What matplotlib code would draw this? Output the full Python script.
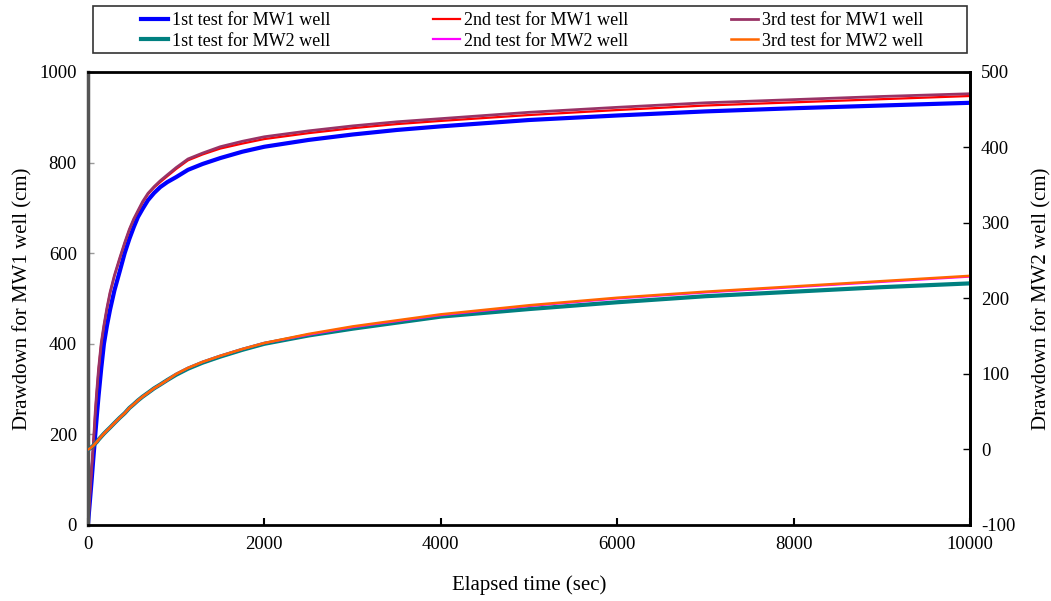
import matplotlib.pyplot as plt
from matplotlib.patches import Rectangle

# elapsed time (sec)
time_sec = [0, 10, 25, 40, 60, 83, 100, 120, 150, 181, 215, 250, 300, 360, 416, 470,
            520, 567, 620, 680, 750, 820, 900, 1000, 1134, 1300, 1500, 1750, 2000,
            2500, 3000, 3500, 4000, 5000, 6000, 7000, 8000, 9000, 10000]

# drawdown for MW1 well (cm), left axis
mw1_test1 = [0, 25, 60, 95, 145, 200, 240, 285, 345, 400, 440, 475, 518, 560, 600, 632,
             658, 680, 698, 717, 733, 746, 757, 768, 784, 797, 810, 824, 835,
             850, 862, 872, 880, 894, 904, 913, 920, 926, 932]
mw1_test2 = [0, 30, 75, 118, 175, 250, 295, 343, 400, 440, 478, 512, 550, 588, 622, 652,
             675, 692, 712, 730, 745, 757, 770, 786, 805, 818, 831, 842, 852,
             865, 876, 885, 892, 905, 916, 926, 933, 940, 947]
mw1_test3 = [0, 30, 76, 119, 176, 251, 296, 344, 401, 441, 479, 513, 551, 589, 623, 653,
             676, 694, 714, 732, 747, 760, 773, 789, 808, 821, 835, 847, 857,
             870, 881, 890, 897, 911, 922, 932, 939, 946, 952]

# drawdown for MW2 well (cm), right axis
mw2_test1 = [0, 0.5, 1.5, 3, 5, 8, 10, 13, 17, 21, 25, 29, 35, 42, 48, 55,
             60, 65, 70, 75, 81, 86, 92, 99, 107, 115, 123, 132, 140,
             151, 160, 168, 176, 186, 195, 203, 209, 215, 220]
mw2_test2 = [0, 0.5, 1.5, 3, 5, 8, 10, 13, 17, 21, 25, 29, 35, 42, 48, 55,
             60, 65, 70, 75, 81, 86, 92, 100, 108, 116, 124, 133, 141,
             152, 162, 170, 178, 190, 200, 208, 215, 222, 229]
mw2_test3 = [0, 0.5, 1.5, 3, 5, 8, 10, 13, 17, 21, 25, 29, 35, 42, 48, 55,
             60, 65, 70, 75, 81, 86, 92, 100, 108, 116, 124, 133, 141,
             153, 163, 171, 179, 191, 201, 209, 216, 223, 230]

plt.rcParams['font.family'] = ['Liberation Serif', 'DejaVu Serif']
plt.rcParams['axes.unicode_minus'] = False

fig = plt.figure(figsize=(10.51, 6.01), dpi=100)
ax = fig.add_axes([0.0837, 0.1265, 0.8392, 0.7537])
ax2 = ax.twinx()

l1, = ax.plot(time_sec, mw1_test1, color='#0000FF', lw=3.0, label='1st test for MW1 well')
l2, = ax.plot(time_sec, mw1_test2, color='#FF0000', lw=1.6, label='2nd test for MW1 well')
l3, = ax.plot(time_sec, mw1_test3, color='#993366', lw=2.0, label='3rd test for MW1 well')
l4, = ax2.plot(time_sec, mw2_test1, color='#008080', lw=3.0, label='1st test for MW2 well')
l5, = ax2.plot(time_sec, mw2_test2, color='#FF00FF', lw=1.6, label='2nd test for MW2 well')
l6, = ax2.plot(time_sec, mw2_test3, color='#FF6600', lw=1.8, label='3rd test for MW2 well')

ax.set_xlim(0, 10000)
ax.set_ylim(0, 1000)
ax2.set_ylim(-100, 500)
ax.set_xticks(range(0, 10001, 2000))
ax.set_yticks(range(0, 1001, 200))
ax2.set_yticks(range(-100, 501, 100))

ax.set_xlabel('Elapsed time (sec)', fontsize=15, labelpad=16)
ax.set_ylabel('Drawdown for MW1 well (cm)', fontsize=15, labelpad=5)
ax2.set_ylabel('Drawdown for MW2 well (cm)', fontsize=15, labelpad=12)

ax.tick_params(axis='x', direction='in', length=5, width=1.5, labelsize=13.5, pad=8)
ax.tick_params(axis='y', direction='in', length=4, width=1, color='#999999', labelsize=13.5, pad=8)
ax2.tick_params(axis='y', direction='in', length=5, width=1, labelsize=13.5, pad=8)

for side in ['top', 'bottom', 'right']:
    ax.spines[side].set_linewidth(2)
    ax.spines[side].set_color('black')
ax.spines['left'].set_linewidth(2.5)
ax.spines['left'].set_color('#555555')
for side in ['top', 'bottom', 'left']:
    ax2.spines[side].set_visible(False)
ax2.spines['right'].set_linewidth(2)

# legend box drawn separately so it can be wider than the entries
fig.patches.append(Rectangle((92.7 / 1051, 1 - 53.3 / 601), 874 / 1051, 47.3 / 601,
                             transform=fig.transFigure, fill=False,
                             edgecolor='#333333', lw=1.2))

handles = [l1, l4, l2, l5, l3, l6]
leg = fig.legend(handles=handles, labels=[h.get_label() for h in handles],
                 loc='center', bbox_to_anchor=(532 / 1051, 1 - 31 / 601), ncol=3,
                 fontsize=13, frameon=False,
                 handlelength=1.5, columnspacing=5.7, borderpad=0.0,
                 labelspacing=0.2, handletextpad=0.2)

fig.savefig('out.png', dpi=100)
